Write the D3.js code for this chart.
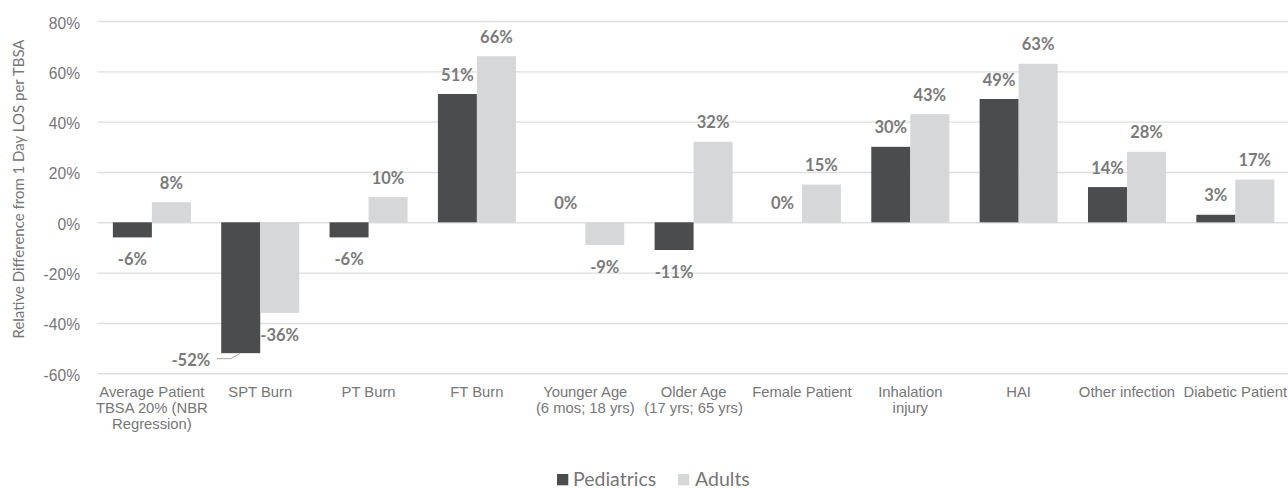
<!DOCTYPE html>
<html>
<head>
<meta charset="utf-8">
<script src="https://cdn.jsdelivr.net/npm/d3@7"></script>
<style>
  html, body { margin: 0; padding: 0; background: #ffffff; }
  svg { display: block; font-family: Lato, "Noto Sans", sans-serif; }
</style>
</head>
<body>
<svg id="chart" width="1288" height="488"></svg>
<script>
// Categories and the wrapped lines shown under each group
const categories = [
  "Average Patient TBSA 20% (NBR Regression)", "SPT Burn", "PT Burn", "FT Burn",
  "Younger Age (6 mos; 18 yrs)", "Older Age (17 yrs; 65 yrs)", "Female Patient",
  "Inhalation injury", "HAI", "Other infection", "Diabetic Patient"
];
const categoryLines = [
  ["Average Patient", "TBSA 20% (NBR", "Regression)"],
  ["SPT Burn"], ["PT Burn"], ["FT Burn"],
  ["Younger Age", "(6 mos; 18 yrs)"],
  ["Older Age", "(17 yrs; 65 yrs)"],
  ["Female Patient"],
  ["Inhalation", "injury"],
  ["HAI"], ["Other infection"], ["Diabetic Patient"]
];

// Relative difference (%) by series
const seriesNames = ["Pediatrics", "Adults"];
const pediatrics = [-6, -52, -6, 51, 0, -11, 0, 30, 49, 14, 3];
const adults     = [8, -36, 10, 66, -9, 32, 15, 43, 63, 28, 17];

// Axis ticks
const yTicks = [-60, -40, -20, 0, 20, 40, 60, 80];
const yTitle = "Relative Difference from 1 Day LOS per TBSA";

const colors = { Pediatrics: "#4b4c4e", Adults: "#d6d7d9" };
const textGray = "#767676";

const svg = d3.select("#chart");
const plot = { left: 97.7, right: 1289.5, top: 21, bottom: 373.3 };

const x = d3.scaleBand()
  .domain(categories)
  .range([plot.left, plot.right])
  .paddingInner(0.28)
  .paddingOuter(0.14);

const xSub = d3.scaleBand()
  .domain(seriesNames)
  .range([0, x.bandwidth()]);

const y = d3.scaleLinear()
  .domain([d3.min(yTicks), d3.max(yTicks)])
  .range([plot.bottom, plot.top]);

// Gridlines and y tick labels
const yAxis = svg.append("g")
  .attr("transform", `translate(${plot.left},0)`)
  .call(d3.axisLeft(y)
    .tickValues(yTicks)
    .tickFormat(d => d + "%")
    .tickSize(-(plot.right - plot.left)));
yAxis.select(".domain").remove();
yAxis.selectAll(".tick line").attr("stroke", "#dedede").attr("stroke-width", 1.4);
yAxis.selectAll(".tick text")
  .attr("x", -17.7)
  .attr("dy", 7)
  .attr("fill", textGray)
  .attr("font-size", "15.6px");

// Y axis title
svg.append("text")
  .attr("transform", `translate(23.5,189) rotate(-90)`)
  .attr("text-anchor", "middle")
  .attr("fill", textGray)
  .attr("font-size", "15px")
  .text(yTitle);

// Category labels
const xAxis = svg.append("g")
  .attr("transform", `translate(0,${plot.bottom})`)
  .call(d3.axisBottom(x).tickSize(0).tickFormat(() => ""));
xAxis.select(".domain").remove();
xAxis.selectAll(".tick").each(function (d, i) {
  const t = d3.select(this).append("text")
    .attr("text-anchor", "middle")
    .attr("fill", textGray)
    .attr("font-size", "14.8px");
  categoryLines[i].forEach((line, k) => {
    t.append("tspan").attr("x", 0).attr("y", 24.2 + k * 16).text(line);
  });
});

// Bars
const rows = categories.map((c, i) => ({
  category: c,
  values: [
    { series: "Pediatrics", value: pediatrics[i] },
    { series: "Adults", value: adults[i] }
  ]
}));

const groups = svg.append("g").selectAll("g")
  .data(rows)
  .join("g")
  .attr("transform", d => `translate(${x(d.category)},0)`);

groups.selectAll("rect")
  .data(d => d.values)
  .join("rect")
  .attr("x", d => xSub(d.series))
  .attr("width", xSub.bandwidth())
  .attr("y", d => y(Math.max(0, d.value)))
  .attr("height", d => Math.abs(y(d.value) - y(0)))
  .attr("fill", d => colors[d.series]);

// Value labels (the SPT Burn pediatric label sits off to the left with a leader line)
groups.each(function (row) {
  const g = d3.select(this);
  row.values.forEach(d => {
    const cx = xSub(d.series) + xSub.bandwidth() / 2;
    const label = d.value + "%";
    const style = t => t.attr("fill", "#7a7a7a")
      .attr("font-weight", "bold")
      .attr("font-size", "16.5px");
    if (row.category === "SPT Burn" && d.series === "Pediatrics") {
      const yb = y(d.value);
      g.append("path")
        .attr("d", `M${cx - 24},${yb + 5.5}L${cx - 10},${yb + 5.5}L${cx - 1},${yb + 0.5}`)
        .attr("fill", "none")
        .attr("stroke", "#a6a6a6")
        .attr("stroke-width", 1);
      g.append("text")
        .attr("x", cx - 30.5)
        .attr("y", yb + 13)
        .attr("text-anchor", "end")
        .call(style)
        .text(label);
    } else {
      const yy = d.value >= 0 ? y(d.value) - 13.4 : y(d.value) + 28;
      g.append("text")
        .attr("x", cx)
        .attr("y", yy)
        .attr("text-anchor", "middle")
        .call(style)
        .text(label);
    }
  });
});

// Legend
const legendItems = [
  { name: "Pediatrics", sx: 557, tx: 573 },
  { name: "Adults", sx: 678, tx: 695 }
];
const legend = svg.append("g");
legend.selectAll("rect")
  .data(legendItems)
  .join("rect")
  .attr("x", d => d.sx)
  .attr("y", 474)
  .attr("width", 11.3)
  .attr("height", 11.3)
  .attr("fill", d => colors[d.name]);
legend.selectAll("text")
  .data(legendItems)
  .join("text")
  .attr("x", d => d.tx)
  .attr("y", 485.5)
  .attr("fill", textGray)
  .attr("font-size", "19.5px")
  .text(d => d.name);
</script>
</body>
</html>
